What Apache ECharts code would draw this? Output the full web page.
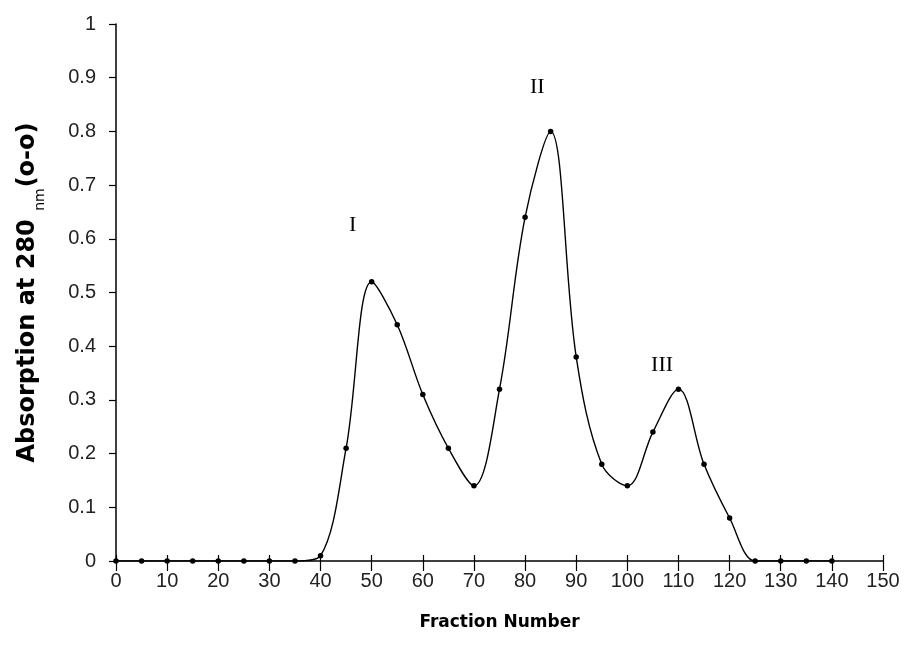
<!DOCTYPE html>
<html>
<head>
<meta charset="utf-8">
<script src="https://cdn.jsdelivr.net/npm/echarts@6/dist/echarts.min.js"></script>
<style>html,body{margin:0;padding:0;background:#fff}#c{width:906px;height:657px}</style>
</head>
<body>
<div id="c"></div>
<script>
var fractions = [0,5,10,15,20,25,30,35,40,45,50,55,60,65,70,75,80,85,90,95,100,105,110,115,120,125,130,135,140];
var absorption = [0,0,0,0,0,0,0,0,0.01,0.21,0.52,0.44,0.31,0.21,0.14,0.32,0.64,0.80,0.38,0.18,0.14,0.24,0.32,0.18,0.08,0,0,0,0];
var peakNames = ['I','II','III'];
var peakX = [46.3, 82.4, 106.8];
var peakY = [0.625, 0.882, 0.365];
var xTicks = [0,150,10];
var yTicks = [0,1,0.1];

var chart = echarts.init(document.getElementById('c'));
var labelFont = {color:'#222', fontFamily:'Liberation Sans', fontSize:20};
chart.setOption({
  animation:false,
  grid:{left:116, right:23, top:24, bottom:96},
  xAxis:[{
    type:'value', min:xTicks[0], max:xTicks[1], interval:xTicks[2],
    axisLine:{lineStyle:{color:'#000', width:1.5}},
    axisTick:{length:10, lineStyle:{color:'#000', width:1.2}},
    axisLabel:Object.assign({margin:10}, labelFont),
    splitLine:{show:false},
    name:'Fraction Number', nameLocation:'middle', nameGap:53,
    nameTextStyle:{fontFamily:'DejaVu Sans', fontWeight:'bold', fontSize:17, color:'#000'}
  },{
    type:'value', min:xTicks[0], max:xTicks[1], interval:xTicks[2], position:'bottom',
    axisLine:{show:false}, axisLabel:{show:false}, splitLine:{show:false},
    axisTick:{inside:true, length:6, lineStyle:{color:'#000', width:1.2}}
  }],
  yAxis:{
    type:'value', min:yTicks[0], max:yTicks[1], interval:yTicks[2],
    axisLine:{show:true, lineStyle:{color:'#000', width:1.5}},
    axisTick:{show:true, length:7, lineStyle:{color:'#000', width:1.2}},
    axisLabel:Object.assign({margin:20, formatter:function(v){return String(Math.round(v*10)/10);}}, labelFont),
    splitLine:{show:false},
    name:'{a|Absorption at 280 }{s|nm}{a|(o-o)}', nameLocation:'middle', nameGap:76,
    nameTextStyle:{
      rich:{
        a:{fontFamily:'DejaVu Sans', fontWeight:'bold', fontSize:24, color:'#000', lineHeight:28, verticalAlign:'bottom'},
        s:{fontFamily:'DejaVu Sans', fontSize:14, color:'#000', lineHeight:28, verticalAlign:'bottom', padding:[0,1,-7,0]}
      }
    }
  },
  series:[{
    type:'line',
    data:fractions.map(function(f,i){return [f, absorption[i]];}),
    smooth:0.35,
    symbol:'circle', symbolSize:5.5,
    itemStyle:{color:'#000'},
    lineStyle:{color:'#000', width:1.4},
    markPoint:{
      symbol:'circle', symbolSize:1,
      itemStyle:{color:'rgba(0,0,0,0)'},
      label:{show:true, position:'inside', formatter:'{b}', fontFamily:'Liberation Serif', fontSize:22, color:'#000'},
      data:peakNames.map(function(n,i){return {name:n, coord:[peakX[i], peakY[i]]};})
    }
  }]
});
</script>
</body>
</html>
